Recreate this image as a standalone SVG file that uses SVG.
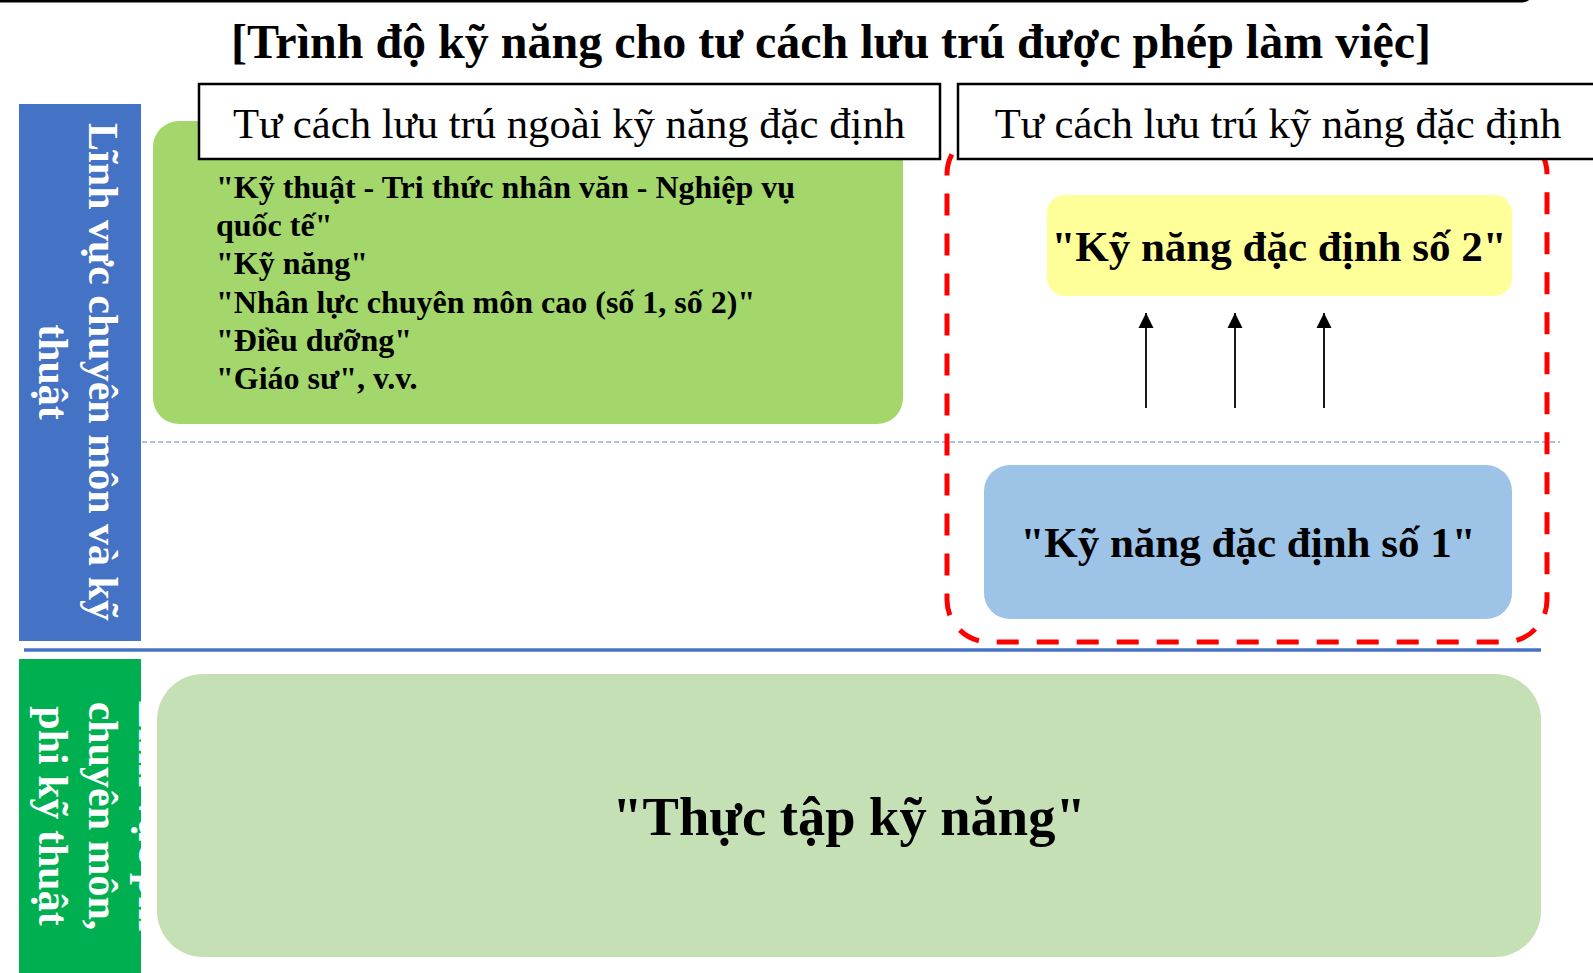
<svg xmlns="http://www.w3.org/2000/svg" width="1593" height="973" viewBox="0 0 1593 973">
<style>
text{font-family:"Liberation Serif","Times New Roman",serif;fill:#000}
.b{font-weight:bold}
.hdr{font-size:42.7px;text-anchor:middle}
.side{font-size:42px;font-weight:bold;fill:#fff;text-anchor:middle}
.big{font-size:43px;font-weight:bold;text-anchor:middle}
.huge{font-size:54.5px;font-weight:bold;text-anchor:middle}
.lst{font-size:32px;font-weight:bold}
</style>
<defs>
<marker id="ah" markerUnits="userSpaceOnUse" markerWidth="16" markerHeight="16" viewBox="0 0 16 16" refX="15" refY="8" orient="auto">
<path d="M0,0.5 L15,8 L0,15.5 Z" fill="#000"/>
</marker>
</defs>
<rect width="1593" height="973" fill="#fff"/>
<rect x="-10" y="-40" width="1542" height="41" rx="10" fill="none" stroke="#000" stroke-width="3"/>
<text id="title" class="b" x="831" y="58" font-size="48" text-anchor="middle">[Trình độ kỹ năng cho tư cách lưu trú được phép làm việc]</text>

<g id="band-tech">
<rect x="19" y="104" width="122" height="537" fill="#4472C4"/>
<text class="side" transform="translate(89,372) rotate(90)"><tspan x="0" y="0">Lĩnh vực chuyên môn và kỹ</tspan><tspan x="0" y="50">thuật</tspan></text>
</g>
<g id="band-nontech">
<rect x="19" y="659" width="122" height="320" fill="#00B050"/>
<text class="side" transform="translate(139,816) rotate(90)"><tspan x="0" y="0">Lĩnh vực phi</tspan><tspan x="0" y="50">chuyên môn,</tspan><tspan x="0" y="100">phi kỹ thuật</tspan></text>
</g>

<g id="box-other">
<rect x="153" y="121" width="750" height="303" rx="26" fill="#A3D76C"/>
<text class="lst"><tspan x="216" y="198">"Kỹ thuật - Tri thức nhân văn - Nghiệp vụ</tspan><tspan x="216" y="236">quốc tế"</tspan><tspan x="216" y="274">"Kỹ năng"</tspan><tspan x="216" y="313">"Nhân lực chuyên môn cao (số 1, số 2)"</tspan><tspan x="216" y="351">"Điều dưỡng"</tspan><tspan x="216" y="389">"Giáo sư", v.v.</tspan></text>
</g>

<line id="divider-dotted" x1="142" y1="442" x2="1560" y2="442" stroke="#8FAADC" stroke-width="1.5" stroke-dasharray="5 3"/>

<rect id="ssw-frame" x="947" y="132" width="600" height="510" rx="42" fill="none" stroke="#FF0000" stroke-width="5" stroke-dasharray="22 18"/>

<g id="header-other">
<rect x="199" y="84" width="741" height="75" fill="#fff" stroke="#000" stroke-width="2.5"/>
<text class="hdr" x="569" y="138">Tư cách lưu trú ngoài kỹ năng đặc định</text>
</g>
<g id="header-ssw">
<rect x="958" y="84" width="645" height="75" fill="#fff" stroke="#000" stroke-width="2.5"/>
<text class="hdr" x="1278" y="138">Tư cách lưu trú kỹ năng đặc định</text>
</g>

<g id="ssw2">
<rect x="1047" y="195" width="465" height="101" rx="18" fill="#FFFF99"/>
<text class="big" x="1279" y="261">"Kỹ năng đặc định số 2"</text>
</g>
<g id="ssw1">
<rect x="984" y="465" width="528" height="154" rx="26" fill="#9DC3E6"/>
<text class="big" x="1248" y="557">"Kỹ năng đặc định số 1"</text>
</g>

<g id="connectors" stroke="#000" stroke-width="1.8">
<line x1="1146" y1="408" x2="1146" y2="313" marker-end="url(#ah)"/>
<line x1="1235" y1="408" x2="1235" y2="313" marker-end="url(#ah)"/>
<line x1="1324" y1="408" x2="1324" y2="313" marker-end="url(#ah)"/>
</g>

<line id="divider-solid" x1="24" y1="650" x2="1541" y2="650" stroke="#4472C4" stroke-width="3.5"/>

<g id="box-trainee">
<rect x="157" y="674" width="1384" height="283" rx="46" fill="#C5E0B4"/>
<text class="huge" x="849" y="835">"Thực tập kỹ năng"</text>
</g>
</svg>
